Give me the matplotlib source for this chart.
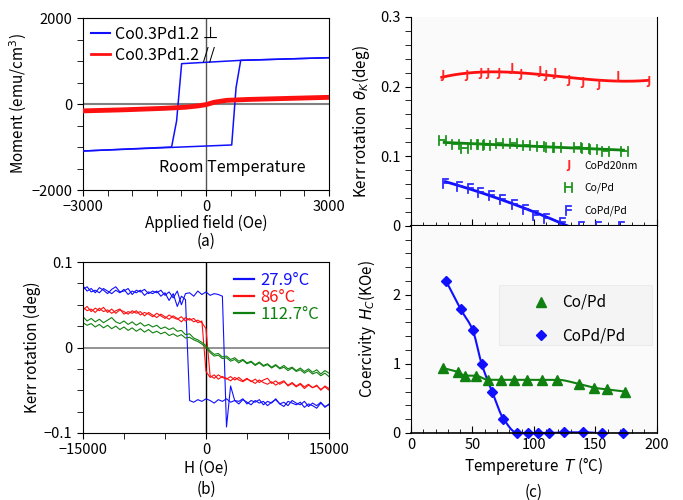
import numpy as np
import matplotlib
matplotlib.use("Agg")
import matplotlib.pyplot as plt
from matplotlib.lines import Line2D
from matplotlib.patches import Rectangle
from matplotlib.ticker import MultipleLocator

plt.rcParams['font.family'] = ['Noto Sans CJK JP', 'DejaVu Sans']
plt.rcParams['mathtext.fontset'] = 'dejavusans'
plt.rcParams['axes.unicode_minus'] = True

# ==========================================
# (a) VSM loops, room temperature
# ==========================================
a_up_H = [-3000, 627, 733, 847, 3000]
a_up_M = [-1093, -953, 380, 1015, 1077]
a_down_H = [3000, 847, -594, -717, -839, -3000]
a_down_M = [1077, 1015, 938, -395, -1000, -1093]
a_par_H = [-3000, -2000, -1000, -500, -200, 0, 200, 500, 1000, 2000, 3000]
a_par_M = [-160, -135, -100, -75, -45, -15, 40, 85, 105, 130, 155]

# ==========================================
# (b) Kerr loops at three temperatures (sweep grid, 500 Oe step)
# ==========================================
b_H = list(range(-15000, 15001, 500))
b_279_fwd = [0.072, 0.066, 0.069, 0.064, 0.070, 0.067, 0.063, 0.068, 0.071, 0.065,
             0.066, 0.069, 0.062, 0.067, 0.065, 0.068, 0.063, 0.066, 0.064, 0.067,
             0.061, 0.065, 0.058, 0.066, 0.050, 0.063,
             0.064, 0.060, 0.066, 0.062, 0.065, 0.061, 0.063, 0.062, 0.060,
             -0.093, -0.045, -0.062,
             -0.063, -0.060, -0.066, -0.062, -0.064, -0.061, -0.067, -0.063, -0.065, -0.060,
             -0.066, -0.064, -0.068, -0.062, -0.065, -0.067, -0.063, -0.069, -0.065, -0.068,
             -0.064, -0.070, -0.066]
b_279_rev = [0.068, 0.071, 0.065, 0.067, 0.064, 0.069, 0.066, 0.063, 0.067, 0.064,
             0.068, 0.062, 0.066, 0.064, 0.067, 0.061, 0.065, 0.063, 0.066, 0.060,
             0.064, 0.055, 0.063, 0.048, 0.060, 0.056,
             -0.062, -0.064, -0.061, -0.063, -0.060, -0.062, -0.065, -0.061, -0.063, -0.060,
             -0.064, -0.062, -0.066, -0.061, -0.064, -0.067, -0.062, -0.065, -0.063, -0.068,
             -0.064, -0.061, -0.066, -0.069, -0.063, -0.065, -0.067, -0.064, -0.070, -0.066,
             -0.068, -0.071, -0.065, -0.069, -0.067]
b_86_fwd = [0.047, 0.043, 0.045, 0.041, 0.046, 0.042, 0.044, 0.040, 0.043, 0.045,
            0.039, 0.042, 0.040, 0.043, 0.038, 0.041, 0.039, 0.036, 0.040, 0.037,
            0.034, 0.038, 0.035, 0.033, 0.036, 0.031, 0.034, 0.030, 0.032, 0.029,
            0.022,
            -0.033, -0.036, -0.032, -0.035, -0.037, -0.034, -0.038, -0.035, -0.039, -0.036,
            -0.040, -0.037, -0.041, -0.038, -0.036, -0.042, -0.039, -0.043, -0.040, -0.044,
            -0.041, -0.045, -0.042, -0.046, -0.043, -0.047, -0.044, -0.050, -0.045, -0.048]
b_86_rev = [0.044, 0.048, 0.042, 0.046, 0.043, 0.047, 0.041, 0.045, 0.040, 0.044,
            0.042, 0.039, 0.043, 0.040, 0.042, 0.037, 0.041, 0.038, 0.035, 0.039,
            0.036, 0.033, 0.037, 0.034, 0.030, 0.035, 0.032, 0.034, 0.029, 0.031,
            -0.028,
            -0.035, -0.032, -0.037, -0.034, -0.036, -0.039, -0.035, -0.038, -0.040, -0.037,
            -0.039, -0.042, -0.038, -0.041, -0.043, -0.040, -0.044, -0.041, -0.039, -0.045,
            -0.042, -0.046, -0.043, -0.048, -0.044, -0.047, -0.045, -0.049, -0.046, -0.050]
b_1127_fwd = [0.036, 0.031, 0.034, 0.030, 0.033, 0.029, 0.032, 0.035, 0.030, 0.028,
              0.031, 0.027, 0.030, 0.026, 0.029, 0.025, 0.027, 0.024, 0.026, 0.022,
              0.024, 0.021, 0.023, 0.019, 0.020, 0.015, 0.016, 0.011, 0.009, 0.006,
              0.002,
              -0.004, -0.008, -0.007, -0.011, -0.010, -0.014, -0.012, -0.016, -0.014, -0.018,
              -0.016, -0.020, -0.017, -0.021, -0.019, -0.023, -0.020, -0.024, -0.021, -0.025,
              -0.023, -0.027, -0.024, -0.028, -0.025, -0.029, -0.026, -0.031, -0.027, -0.030]
b_1127_rev = [0.029, 0.026, 0.028, 0.024, 0.027, 0.023, 0.026, 0.022, 0.025, 0.021,
              0.024, 0.020, 0.023, 0.019, 0.022, 0.018, 0.021, 0.017, 0.019, 0.016,
              0.018, 0.014, 0.016, 0.013, 0.015, 0.011, 0.012, 0.009, 0.007, 0.004,
              0.000,
              -0.006, -0.010, -0.009, -0.013, -0.012, -0.016, -0.014, -0.018, -0.015, -0.019,
              -0.017, -0.021, -0.018, -0.022, -0.020, -0.024, -0.021, -0.025, -0.023, -0.027,
              -0.024, -0.028, -0.026, -0.030, -0.027, -0.031, -0.029, -0.033, -0.030, -0.034]

# ==========================================
# (c) Kerr rotation and coercivity vs temperature
# ==========================================
c_T_20nm = [25, 45, 56, 62, 71, 81, 89, 104, 109, 116, 128, 139, 152, 168, 193]
c_k_20nm = [0.216, 0.216, 0.219, 0.219, 0.220, 0.226, 0.218, 0.222, 0.217, 0.220,
            0.210, 0.207, 0.203, 0.215, 0.208]
c_T_copd = [25, 36, 43, 51, 56, 61, 72, 83, 94, 105, 112, 119, 135, 142, 148, 158, 173]
c_k_copd = [0.123, 0.118, 0.112, 0.117, 0.117, 0.116, 0.119, 0.119, 0.116, 0.114,
            0.113, 0.113, 0.113, 0.112, 0.110, 0.108, 0.107]
c_T_pdpd = [28, 39, 48, 56, 65, 74, 84, 93, 101, 110, 123, 138, 152, 171]
c_k_pdpd = [0.062, 0.057, 0.054, 0.049, 0.044, 0.038, 0.031, 0.024, 0.016, 0.011,
            0.006, 0.0, 0.0, 0.0]

c_T_hc_copd = [26, 38.5, 44, 52.6, 62.4, 73.3, 83.9, 94.2, 106.9, 119.1, 136.8, 149, 159.8, 174.2]
c_hc_copd = [0.94, 0.88, 0.83, 0.83, 0.77, 0.77, 0.77, 0.77, 0.77, 0.77, 0.71, 0.655, 0.63, 0.60]
c_T_hc_pdpd = [28.5, 40.4, 50.2, 57.5, 66.2, 75.2, 86.6, 95.5, 103.7, 112.6, 124.8, 139.8, 155.2, 172.9]
c_hc_pdpd = [2.2, 1.79, 1.49, 1.0, 0.59, 0.207, 0, 0, 0, 0, 0.01, 0.01, 0, 0]


def pchip(x, y, xn):
    # monotone cubic Hermite through the measured points
    x = np.asarray(x, float)
    y = np.asarray(y, float)
    h = np.diff(x)
    d = np.diff(y) / h
    m = np.zeros_like(y)
    m[0], m[-1] = d[0], d[-1]
    for k in range(1, len(x) - 1):
        if d[k - 1] * d[k] > 0:
            w1 = 2 * h[k] + h[k - 1]
            w2 = h[k] + 2 * h[k - 1]
            m[k] = (w1 + w2) / (w1 / d[k - 1] + w2 / d[k])
    idx = np.clip(np.searchsorted(x, xn) - 1, 0, len(x) - 2)
    t = (xn - x[idx]) / h[idx]
    h00 = 2 * t**3 - 3 * t**2 + 1
    h10 = t**3 - 2 * t**2 + t
    h01 = -2 * t**3 + 3 * t**2
    h11 = t**3 - t**2
    return h00 * y[idx] + h10 * h[idx] * m[idx] + h01 * y[idx + 1] + h11 * h[idx] * m[idx + 1]


TICK_FS = 10.5
LAB_FS = 11
TXT_MK = dict(ls="none", ms=7.5, mew=0.5)

fig = plt.figure(figsize=(6.83, 5.0), dpi=100)

# ---------------- (a) ----------------
ax_a = fig.add_axes([0.1215, 0.62, 0.3602, 0.344])
ax_a.axhline(0, color="#808080", lw=1.5, zorder=1)
ax_a.axvline(0, color="#555555", lw=1.0, zorder=1)
ax_a.plot(a_up_H, a_up_M, color="#1010ff", lw=1.1, zorder=3)
ax_a.plot(a_down_H, a_down_M, color="#1010ff", lw=1.1, zorder=3)
ax_a.plot(a_par_H, a_par_M, color="#ff1010", lw=3.5, zorder=4)
ax_a.set_xlim(-3000, 3000)
ax_a.set_ylim(-2000, 2000)
ax_a.set_xticks([-3000, 0, 3000])
ax_a.set_yticks([-2000, 0, 2000])
ax_a.xaxis.set_minor_locator(MultipleLocator(600))
ax_a.yaxis.set_minor_locator(MultipleLocator(500))
ax_a.tick_params(which="both", direction="out", labelsize=TICK_FS, length=4)
ax_a.set_xlabel("Applied field (Oe)", fontsize=LAB_FS, labelpad=0)
ax_a.set_ylabel("Moment (emu/cm$^3$)", fontsize=LAB_FS, labelpad=2)
ax_a.text(650, -1480, "Room Temperature", ha="center", va="center", fontsize=11.5)
ax_a.legend(
    handles=[Line2D([], [], color="#1010ff", lw=1.5),
             Line2D([], [], color="#ff1010", lw=2.0)],
    labels=["Co0.3Pd1.2 \u22a5", "Co0.3Pd1.2 //"],
    loc="upper left", frameon=False, fontsize=11.5, handlelength=1.2,
    handletextpad=0.3, borderaxespad=0.1, labelspacing=0.2)
fig.text(0.3016, 0.518, "(a)", ha="center", va="center", fontsize=LAB_FS)

# ---------------- (b) ----------------
ax_b = fig.add_axes([0.1215, 0.134, 0.3602, 0.342])
ax_b.axhline(0, color="#808080", lw=1.2, zorder=1)
ax_b.axvline(0, color="black", lw=1.0, zorder=1)
ax_b.plot(b_H, b_279_fwd, color="#1010ff", lw=0.8, label="27.9\u00b0C")
ax_b.plot(b_H, b_279_rev, color="#1010ff", lw=0.8)
ax_b.plot(b_H, b_86_fwd, color="#ff1010", lw=0.8, label="86\u00b0C")
ax_b.plot(b_H, b_86_rev, color="#ff1010", lw=0.8)
ax_b.plot(b_H, b_1127_fwd, color="#108010", lw=0.8, label="112.7\u00b0C")
ax_b.plot(b_H, b_1127_rev, color="#108010", lw=0.8)
ax_b.set_xlim(-15000, 15000)
ax_b.set_ylim(-0.1, 0.1)
ax_b.set_xticks([-15000, 0, 15000])
ax_b.set_yticks([-0.1, 0, 0.1])
ax_b.set_yticklabels(["\u22120.1", "0", "0.1"])
ax_b.xaxis.set_minor_locator(MultipleLocator(5000))
ax_b.yaxis.set_minor_locator(MultipleLocator(0.025))
ax_b.tick_params(which="both", direction="out", labelsize=TICK_FS, length=4)
ax_b.set_xlabel("H (Oe)", fontsize=LAB_FS, labelpad=2)
ax_b.set_ylabel("Kerr rotation (deg)", fontsize=LAB_FS, labelpad=2)
leg_b = ax_b.legend(loc="upper right", frameon=False, fontsize=12, handlelength=1.2,
                    handletextpad=0.4, borderaxespad=0.2, labelspacing=0.0,
                    labelcolor="linecolor")
for ln in leg_b.get_lines():
    ln.set_linewidth(1.6)
fig.text(0.3016, 0.022, "(b)", ha="center", va="center", fontsize=LAB_FS)

# ---------------- (c) top: Kerr rotation ----------------
ax_ct = fig.add_axes([0.6018, 0.5486, 0.3597, 0.4174], facecolor="#fafafa")
ax_cb = fig.add_axes([0.6018, 0.134, 0.3597, 0.4146], facecolor="#fafafa", sharex=ax_ct)

T_line = np.linspace(25, 193, 200)
ax_ct.plot(T_line, np.polyval(np.polyfit(c_T_20nm, c_k_20nm, 3), T_line),
           color="#ff1010", lw=2)
T_line2 = np.linspace(27, 173, 100)
ax_ct.plot(T_line2, np.polyval(np.polyfit(c_T_copd, c_k_copd, 1), T_line2),
           color="#108010", lw=2)
pos = np.array(c_k_pdpd) > 0
fit_b = np.polyfit(np.array(c_T_pdpd)[pos], np.array(c_k_pdpd)[pos], 2)
T_line3 = np.linspace(28, 175, 150)
ax_ct.plot(T_line3, np.polyval(fit_b, T_line3), color="#1010ff", lw=2)

ax_ct.plot(c_T_20nm, c_k_20nm, marker=r"$\mathrm{J}$", color="#ff2020", **TXT_MK)
ax_ct.plot(c_T_copd, c_k_copd, marker=r"$\mathrm{H}$", color="#109010", **TXT_MK)
ax_ct.plot(c_T_pdpd, c_k_pdpd, marker=r"$\mathrm{F}$", color="#2020ff", clip_on=False,
           **TXT_MK)
ax_ct.set_xlim(0, 200)
ax_ct.set_ylim(0, 0.3)
ax_ct.set_yticks([0, 0.1, 0.2, 0.3])
ax_ct.set_yticklabels(["0", "0.1", "0.2", "0.3"])
ax_ct.yaxis.set_minor_locator(MultipleLocator(0.02))
ax_ct.xaxis.set_major_locator(MultipleLocator(50))
ax_ct.xaxis.set_minor_locator(MultipleLocator(10))
ax_ct.tick_params(axis="x", which="major", direction="in", length=5, labelbottom=False)
ax_ct.tick_params(axis="x", which="minor", direction="in", length=3)
ax_ct.tick_params(axis="y", which="both", direction="out", length=4, labelsize=TICK_FS)
ax_ct.spines["top"].set_visible(False)
ax_ct.spines["bottom"].set_linewidth(1.5)
ax_ct.set_ylabel(r"Kerr rotation  $\theta_K$(deg)", fontsize=LAB_FS, labelpad=6)
ax_ct.legend(
    handles=[Line2D([], [], marker=r"$\mathrm{J}$", color="#ff2020", **TXT_MK),
             Line2D([], [], marker=r"$\mathrm{H}$", color="#109010", **TXT_MK),
             Line2D([], [], marker=r"$\mathrm{F}$", color="#2020ff", **TXT_MK)],
    labels=["CoPd20nm", "Co/Pd", "CoPd/Pd"],
    loc="upper left", bbox_to_anchor=(0.6, 0.33), frameon=False, fontsize=7.5,
    handlelength=1.0, handletextpad=1.1, labelspacing=1.15, borderaxespad=0)

# ---------------- (c) bottom: coercivity ----------------
Tg = np.linspace(c_T_hc_copd[0], c_T_hc_copd[-1], 300)
ax_cb.plot(Tg, pchip(c_T_hc_copd, c_hc_copd, Tg), color="#108010", lw=1.5)
Tb = np.linspace(c_T_hc_pdpd[0], 150, 300)
ax_cb.plot(Tb, pchip(c_T_hc_pdpd, c_hc_pdpd, Tb), color="#1010ff", lw=1.5)
ax_cb.plot(c_T_hc_copd, c_hc_copd, ls="none", marker="^", ms=7, color="#108010",
           label="Co/Pd")
ax_cb.plot(c_T_hc_pdpd, c_hc_pdpd, ls="none", marker="D", ms=5.5, color="#1010ff",
           label="CoPd/Pd", clip_on=False)
ax_cb.set_xlim(0, 200)
ax_cb.set_ylim(0, 3)
ax_cb.set_yticks([0, 1, 2])
ax_cb.yaxis.set_minor_locator(MultipleLocator(0.2))
ax_cb.tick_params(axis="x", which="major", direction="in", length=5, labelsize=TICK_FS)
ax_cb.tick_params(axis="x", which="minor", direction="in", length=3)
ax_cb.tick_params(axis="y", which="both", direction="out", length=4, labelsize=TICK_FS)
ax_cb.spines["top"].set_visible(False)
ax_cb.spines["bottom"].set_linewidth(1.2)
ax_cb.set_xlabel("Tempereture  $T$ (\u00b0C)", fontsize=LAB_FS, labelpad=2)
ax_cb.set_ylabel(r"Coercivity  $H_C$(KOe)", fontsize=LAB_FS, labelpad=10)
# light legend panel behind the entries
ax_cb.add_patch(Rectangle((0.358, 0.425), 0.623, 0.29, transform=ax_cb.transAxes,
                          facecolor="#f4f4f4", edgecolor="#ececec", lw=0.8, zorder=0.5))
ax_cb.legend(loc="center left", bbox_to_anchor=(0.465, 0.548), fontsize=11,
             frameon=False, handletextpad=0.8, labelspacing=1.1,
             handlelength=1.2, borderaxespad=0)
fig.text(0.782, 0.016, "(c)", ha="center", va="center", fontsize=LAB_FS)

fig.savefig("out.png", dpi=100)
